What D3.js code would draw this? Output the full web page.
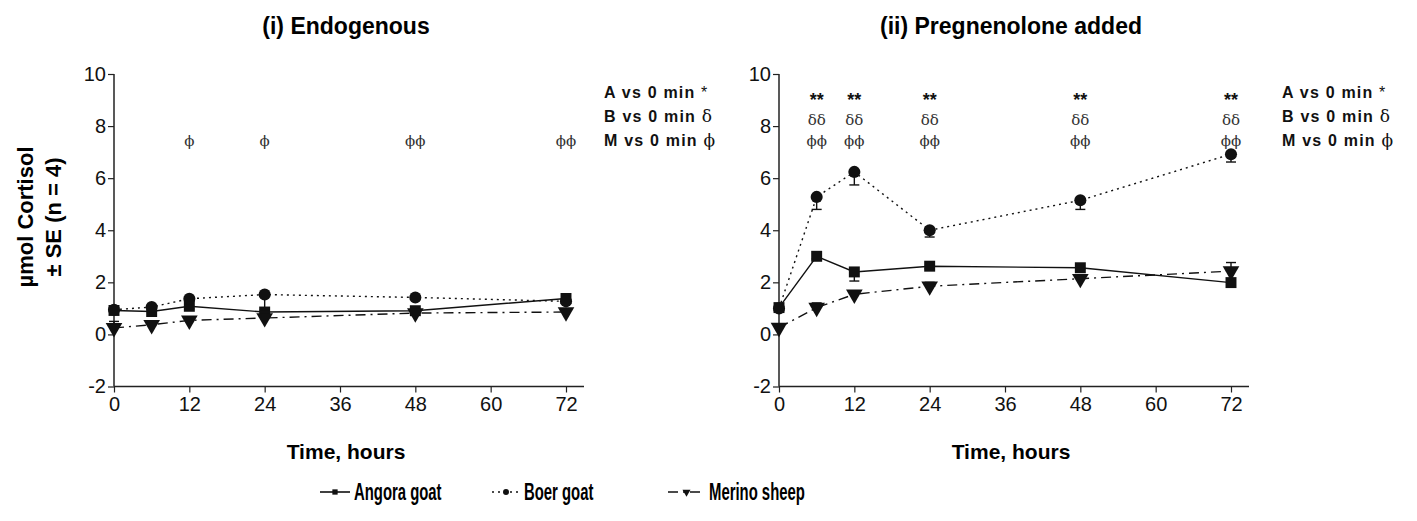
<!DOCTYPE html>
<html>
<head>
<meta charset="utf-8">
<script src="https://cdn.jsdelivr.net/npm/d3@7"></script>
<style>
  body { margin: 0; background: #fff; }
  svg { display: block; font-family: "Liberation Sans", Arial, sans-serif; }
</style>
</head>
<body>
<svg id="chart" width="1417" height="521"></svg>
<script>
// time points (hours)
const hours = [0, 6, 12, 24, 48, 72];

// (i) endogenous
const endoAngora = [0.92, 0.88, 1.08, 0.86, 0.91, 1.38];
const endoBoer   = [0.95, 1.05, 1.37, 1.53, 1.42, 1.27];
const endoMerino = [0.25, 0.37, 0.54, 0.63, 0.82, 0.86];
const endoAngoraSE = [0, 0, 0.1, 0.1, 0.05, 0.05];
const endoBoerSE   = [0, 0, 0, 0.6, 0, 0];
const endoMerinoSE = [0.25, 0, 0, 0, 0, 0];

// (ii) pregnenolone added
const pregAngora = [1.03, 3.0, 2.4, 2.62, 2.56, 1.99];
const pregBoer   = [1.0, 5.28, 6.24, 4.0, 5.15, 6.92];
const pregMerino = [0.26, 1.03, 1.54, 1.85, 2.14, 2.43];
const pregAngoraSE = [0, 0.1, 0.35, 0.1, 0.05, 0.05];
const pregBoerSE   = [0, 0.48, 0.5, 0.26, 0.35, 0.3];
const pregMerinoSE = [0, 0.18, 0.05, 0.15, 0.05, 0.33];

// significance marks above time points
const endoSig = [{t: 12, rows: ["", "", "\u03d5"]}, {t: 24, rows: ["", "", "\u03d5"]},
                 {t: 48, rows: ["", "", "\u03d5\u03d5"]}, {t: 72, rows: ["", "", "\u03d5\u03d5"]}];
const pregSig = [6, 12, 24, 48, 72].map(t => ({t: t, rows: ["**", "\u03b4\u03b4", "\u03d5\u03d5"]}));

const notes = [["A vs 0 min ", "*"], ["B vs 0 min ", "\u03b4"], ["M vs 0 min ", "\u03d5"]];
const yTicks = [-2, 0, 2, 4, 6, 8, 10];
const xTicks = [0, 12, 24, 36, 48, 60, 72];

const seriesStyle = [
  {name: "Angora goat", dash: null, marker: d3.symbolSquare, dir: -1},
  {name: "Boer goat", dash: "2,4", marker: d3.symbolCircle, dir: -1},
  {name: "Merino sheep", dash: "10,5,2,5", marker: d3.symbolTriangle, dir: 1, flip: true}
];

const svg = d3.select("#chart");

function drawPanel(left, title, values, ses, sig, noteX) {
  const x = d3.scaleLinear().domain([0, 72]).range([left, left + 452]);
  const y = d3.scaleLinear().domain([-2, 10]).range([386.5, 74]);
  const g = svg.append("g");

  g.append("text").attr("x", left + 232).attr("y", 34)
    .attr("text-anchor", "middle").attr("font-size", 23).attr("font-weight", "bold")
    .text(title);

  const ya = g.append("g").attr("transform", `translate(${left},0)`)
    .call(d3.axisLeft(y).tickValues(yTicks).tickFormat(d => String(d)).tickSize(6).tickPadding(2));
  const xa = g.append("g").attr("transform", `translate(0,${y(-2)})`)
    .call(d3.axisBottom(x).tickValues(xTicks).tickFormat(d => String(d)).tickSize(6).tickPadding(4));
  [ya, xa].forEach(a => {
    a.attr("font-size", 20).attr("font-family", "Liberation Sans, Arial, sans-serif");
    a.select(".domain").attr("stroke", "#222").attr("stroke-width", 1.5);
    a.selectAll(".tick line").attr("stroke", "#222").attr("stroke-width", 1.2);
    a.selectAll("text").attr("fill", "#111");
  });
  // extend x axis a bit past 72
  xa.select(".domain").attr("d", `M${left},0H${left + 470}`);
  ya.select(".domain").attr("d", `M0,${y(10)}V${y(-2)}`);

  g.append("text").attr("x", left + 232).attr("y", 459)
    .attr("text-anchor", "middle").attr("font-size", 21).attr("font-weight", "bold")
    .text("Time, hours");

  values.forEach((vals, si) => {
    const st = seriesStyle[si];
    const pts = hours.map((h, i) => ({h: h, v: vals[i], se: ses[si][i]}));
    const line = d3.line().x(d => x(d.h)).y(d => y(d.v));
    g.append("path").datum(pts).attr("d", line)
      .attr("fill", "none").attr("stroke", "#111").attr("stroke-width", 1.4)
      .attr("stroke-dasharray", st.dash);
    // one-sided error bars
    pts.filter(d => d.se > 0).forEach(d => {
      const yEnd = y(d.v + st.dir * d.se);
      g.append("line").attr("x1", x(d.h)).attr("x2", x(d.h))
        .attr("y1", y(d.v)).attr("y2", yEnd).attr("stroke", "#111").attr("stroke-width", 1.4);
      g.append("line").attr("x1", x(d.h) - 5).attr("x2", x(d.h) + 5)
        .attr("y1", yEnd).attr("y2", yEnd).attr("stroke", "#111").attr("stroke-width", 1.4);
    });
    g.selectAll(null).data(pts).enter().append("path")
      .attr("d", d3.symbol().type(st.marker).size(si === 1 ? 115 : 120))
      .attr("transform", d => `translate(${x(d.h)},${y(d.v)})` + (st.flip ? " rotate(180)" : ""))
      .attr("fill", "#111");
  });

  const rowY = [106, 125, 146];
  sig.forEach(s => {
    s.rows.forEach((r, i) => {
      if (!r) return;
      g.append("text").attr("x", x(s.t)).attr("y", rowY[i])
        .attr("text-anchor", "middle")
        .attr("font-size", i === 0 ? 18 : 15)
        .attr("font-weight", i === 0 ? "bold" : "normal")
        .attr("font-family", i === 0 ? "Liberation Sans, Arial, sans-serif" : "DejaVu Serif, serif")
        .attr("fill", i === 0 ? "#111" : "#333")
        .text(r);
    });
  });

  notes.forEach((n, i) => {
    const t = g.append("text").attr("x", noteX).attr("y", 98 + i * 24)
      .attr("font-size", 16).attr("font-weight", "bold").attr("letter-spacing", 1.2).attr("fill", "#111");
    t.append("tspan").text(n[0]);
    t.append("tspan").attr("font-weight", "normal").attr("font-family", i === 0 ? null : "DejaVu Serif, serif")
      .attr("font-size", i === 0 ? 16 : 17).text(n[1]);
  });
}

drawPanel(114, "(i) Endogenous", [endoAngora, endoBoer, endoMerino],
  [endoAngoraSE, endoBoerSE, endoMerinoSE], endoSig, 604);
drawPanel(779, "(ii) Pregnenolone added", [pregAngora, pregBoer, pregMerino],
  [pregAngoraSE, pregBoerSE, pregMerinoSE], pregSig, 1282);

// y axis label
const yl = svg.append("text").attr("transform", "translate(0,217) rotate(-90)")
  .attr("text-anchor", "middle").attr("font-size", 22).attr("font-weight", "bold");
yl.append("tspan").attr("x", 0).attr("y", 33).text("\u00b5mol Cortisol");
yl.append("tspan").attr("x", 0).attr("y", 61).text("\u00b1 SE (n = 4)");

// legend
const legX = [320, 492, 668];
const legLen = [30, 28, 37];
seriesStyle.forEach((st, i) => {
  const lg = svg.append("g").attr("transform", `translate(${legX[i]},492)`);
  lg.append("line").attr("x1", 0).attr("x2", legLen[i]).attr("y1", 0).attr("y2", 0)
    .attr("stroke", "#111").attr("stroke-width", 1.6).attr("stroke-dasharray", st.dash);
  lg.append("path").attr("d", d3.symbol().type(st.marker).size(28))
    .attr("transform", `translate(${legLen[i] / 2},0)` + (st.flip ? " rotate(180)" : "")).attr("fill", "#111");
  lg.append("text").attr("transform", `translate(${legLen[i] + 4},8) scale(0.62,1)`)
    .attr("font-size", 24).attr("font-weight", "bold").text(st.name);
});
</script>
</body>
</html>
